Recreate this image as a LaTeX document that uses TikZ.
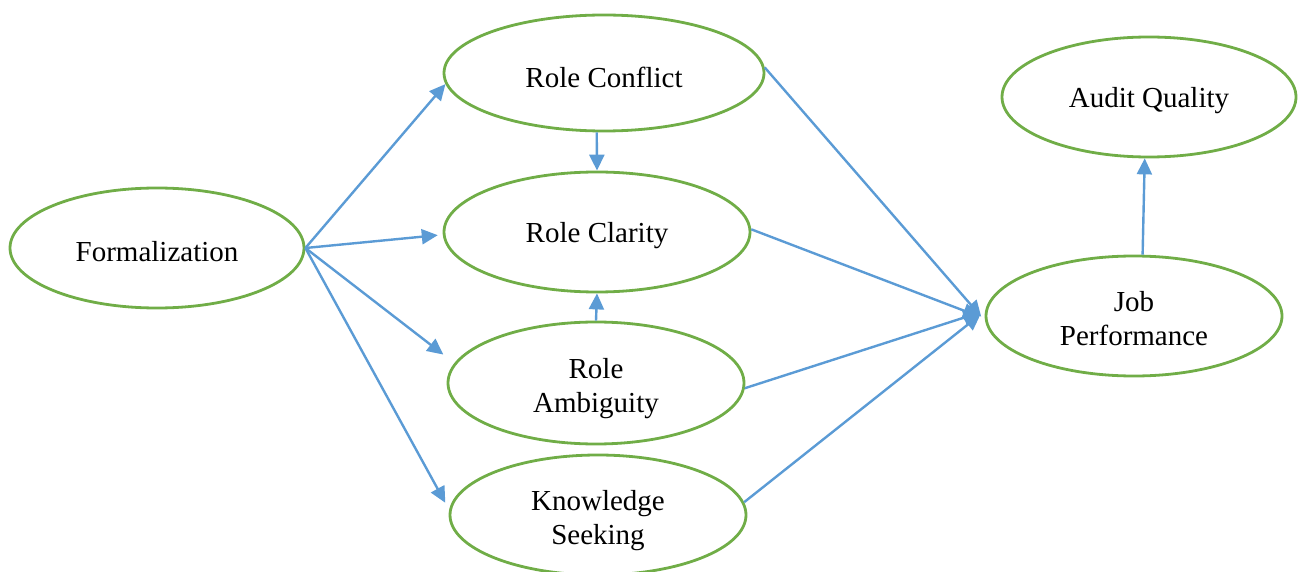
\documentclass[tikz,border=0pt]{standalone}
\usepackage{fontspec}
\setmainfont{Liberation Serif}
\usetikzlibrary{shapes.geometric,arrows.meta}
\definecolor{ogreen}{HTML}{70AD47}
\definecolor{oblue}{HTML}{5B9BD5}
\newcommand{\onel}[1]{\raisebox{-4pt}[\height][\depth]{#1}}
\newcommand{\twol}[2]{\raisebox{-6pt}[\height][\depth]{\begin{tabular}{@{}c@{}}#1\\#2\end{tabular}}}
\tikzset{
  oval/.style={ellipse, draw=ogreen, line width=2.8pt, inner sep=0pt,
    font=\fontsize{29}{34}\selectfont},
  link/.style={draw=oblue, line width=2.4pt, -{Triangle[length=16pt,width=15pt]}}
}
\begin{document}
\begin{tikzpicture}[x=1pt,y=-1pt]
\useasboundingbox (0,0) rectangle (1299,572);
\node[oval, minimum width=294pt, minimum height=120pt] (form) at (157,248) {\onel{Formalization}};
\node[oval, minimum width=320pt, minimum height=116pt] (rconf) at (604,73) {\onel{Role Conflict}};
\node[oval, minimum width=306pt, minimum height=120pt] (rclar) at (597,232) {\onel{Role Clarity}};
\node[oval, minimum width=296pt, minimum height=122pt] (ramb) at (596,383) {\twol{Role}{Ambiguity}};
\node[oval, minimum width=296pt, minimum height=120pt] (know) at (598,515) {\twol{Knowledge}{Seeking}};
\node[oval, minimum width=294pt, minimum height=120pt] (aq) at (1149,97) {\onel{Audit Quality}};
\node[oval, minimum width=296pt, minimum height=120pt] (jp) at (1134,316) {\twol{Job}{Performance}};

\draw[link] (form.east) -- (rconf.184);
\draw[link, shorten >=5pt] (form.east) -- (rclar.181);
\draw[link, shorten >=14pt] (form.east) -- (ramb.172);
\draw[link, shorten >=8pt] (form.east) -- (know.178);
\draw[link] (rconf.263) -- (rclar.north);
\draw[link] (ramb.north) -- (rclar.south);
\draw[link, shorten >=6pt] (rconf.2) -- (jp.182);
\draw[link, shorten >=6pt] (rclar.1) -- (jp.181);
\draw[link, shorten >=6pt] (ramb.358) -- (jp.178);
\draw[link, shorten >=6pt] (know.5) -- (jp.178);
\draw[link] (jp.82) -- (aq.266);
\end{tikzpicture}
\end{document}
